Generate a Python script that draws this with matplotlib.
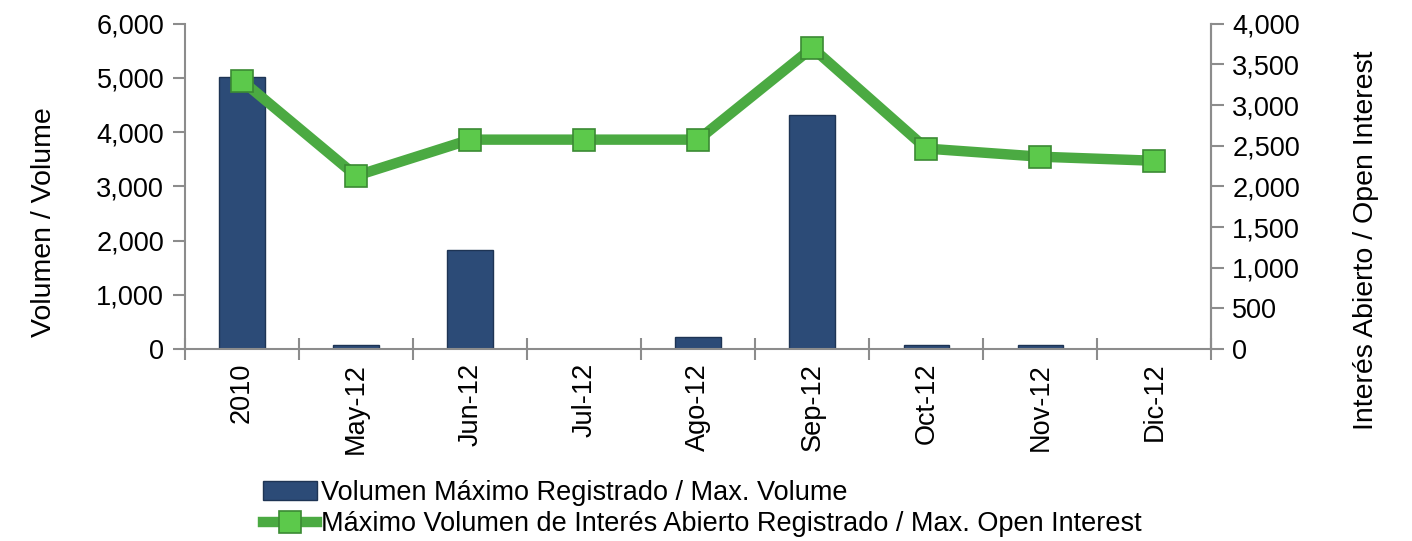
import numpy as np
import matplotlib.pyplot as plt
from matplotlib.ticker import FuncFormatter, MultipleLocator

plt.rcParams['font.family'] = ['Liberation Sans', 'DejaVu Sans']

categories = ['2010', 'May-12', 'Jun-12', 'Jul-12', 'Ago-12', 'Sep-12', 'Oct-12', 'Nov-12', 'Dic-12']
volume = [5020, 80, 1830, 0, 220, 4320, 80, 80, 0]
open_interest = [3300, 2130, 2575, 2575, 2575, 3705, 2465, 2365, 2315]

fig = plt.figure(figsize=(14.12, 5.41), dpi=100)
ax = fig.add_axes([0.131, 0.355, 0.727, 0.601])
x = np.arange(len(categories))

bars = ax.bar(x, volume, width=0.4, color='#2C4B77', edgecolor='#1E3454', linewidth=1,
              label='Volumen Máximo Registrado / Max. Volume', zorder=2)
ax.set_xlim(-0.5, len(categories) - 0.5)
ax.set_ylim(0, 6000)
ax.yaxis.set_major_locator(MultipleLocator(1000))
fmt = FuncFormatter(lambda v, p: '{:,.0f}'.format(v))
ax.yaxis.set_major_formatter(fmt)
ax.set_xticks(x)
ax.set_xticklabels(categories, rotation=90)
ax.set_xticks(np.arange(-0.5, len(categories)), minor=True)
ax.tick_params(axis='x', which='major', length=0, pad=10, labelsize=19.5)
ax.tick_params(axis='x', which='minor', length=16, direction='inout', color='#8C8C8C', width=1.5)
ax.tick_params(axis='y', length=9, color='#8C8C8C', width=1.5, labelsize=19.5, pad=6)
ax.spines['top'].set_visible(False)
for s in ['left', 'right', 'bottom']:
    ax.spines[s].set_color('#8C8C8C')
    ax.spines[s].set_linewidth(1.5)
ax.set_ylabel('Volumen / Volume', fontsize=20.5)
ax.yaxis.set_label_coords(-0.125, 0.39)

ax2 = ax.twinx()
ax2.plot(x, open_interest, color='#4BAA42', linewidth=7.5, marker='s', markersize=16,
         markerfacecolor='#5CC94B', markeredgecolor='#3B8A33', markeredgewidth=1.2,
         label='Máximo Volumen de Interés Abierto Registrado / Max. Open Interest', zorder=3)
ax2.set_ylim(0, 4000)
ax2.yaxis.set_major_locator(MultipleLocator(500))
ax2.yaxis.set_major_formatter(fmt)
ax2.tick_params(axis='y', length=9, color='#8C8C8C', width=1.5, labelsize=19.5, pad=6)
for s in ['top', 'left', 'bottom']:
    ax2.spines[s].set_visible(False)
ax2.spines['right'].set_color('#8C8C8C')
ax2.spines['right'].set_linewidth(1.5)
ax2.set_ylabel('Interés Abierto / Open Interest', fontsize=20.5)
ax2.yaxis.set_label_coords(1.138, 0.335)

h1, l1 = ax.get_legend_handles_labels()
h2, l2 = ax2.get_legend_handles_labels()
fig.legend(h1 + h2, l1 + l2, loc='lower left', bbox_to_anchor=(0.169, -0.038), frameon=False,
           fontsize=19.5, handlelength=2.0, handletextpad=0.15, labelspacing=0.2)

fig.savefig('out.png', dpi=100)
